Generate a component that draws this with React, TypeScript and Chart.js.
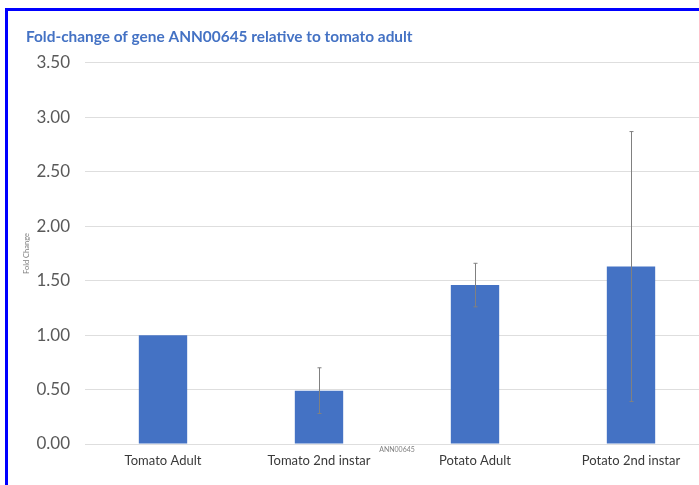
import React, { useEffect, useRef } from "react";
import { Chart, registerables } from "chart.js";

Chart.register(...registerables);

const chartTitle = "Fold-change of gene ANN00645 relative to tomato adult";
const yAxisTitle = "Fold Change";
const xAxisTitle = "ANN00645";
const categories = ["Tomato Adult", "Tomato 2nd instar", "Potato Adult", "Potato 2nd instar"];
const foldChange = [1.0, 0.49, 1.46, 1.63];
const errorPlusMinus = [0, 0.21, 0.2, 1.24];
const yTicks = [0, 0.5, 1, 1.5, 2, 2.5, 3, 3.5];

const errorBarPlugin = {
  id: "errorBars",
  afterDatasetsDraw(chart: any) {
    const meta = chart.getDatasetMeta(0);
    const y = chart.scales.y;
    const ctx = chart.ctx;
    ctx.save();
    ctx.strokeStyle = "#808080";
    ctx.lineWidth = 1;
    meta.data.forEach((bar: any, i: number) => {
      const e = errorPlusMinus[i];
      if (!e) return;
      const v = foldChange[i];
      const x = Math.round(bar.x) + 0.5;
      const yHi = y.getPixelForValue(v + e);
      const yLo = y.getPixelForValue(v - e);
      ctx.beginPath();
      ctx.moveTo(x, yHi);
      ctx.lineTo(x, yLo);
      ctx.moveTo(x - 2, yHi);
      ctx.lineTo(x + 2, yHi);
      ctx.moveTo(x - 2, yLo);
      ctx.lineTo(x + 2, yLo);
      ctx.stroke();
    });
    ctx.restore();
  },
};

const xTitlePlugin = {
  id: "xTitleInside",
  afterDraw(chart: any) {
    const { left, right, bottom } = chart.chartArea;
    const ctx = chart.ctx;
    ctx.save();
    ctx.font = "7px Lato";
    ctx.fillStyle = "#808080";
    ctx.textAlign = "center";
    ctx.textBaseline = "middle";
    ctx.fillText(xAxisTitle, (left + right) / 2, bottom + 6);
    ctx.restore();
  },
};

export default function App() {
  const ref = useRef<HTMLCanvasElement | null>(null);

  useEffect(() => {
    if (!ref.current) return;
    const chart = new Chart(ref.current, {
      type: "bar",
      data: {
        labels: categories,
        datasets: [
          {
            data: foldChange,
            backgroundColor: "#4472C4",
            borderWidth: 0,
            categoryPercentage: 1,
            barPercentage: 0.31,
          },
        ],
      },
      plugins: [errorBarPlugin, xTitlePlugin],
      options: {
        animation: false,
        responsive: false,
        maintainAspectRatio: false,
        layout: { padding: { left: 26, top: 20, right: 21, bottom: 0 } },
        plugins: {
          legend: { display: false },
          tooltip: { enabled: false },
          title: {
            display: true,
            text: chartTitle,
            align: "start",
            color: "#4472C4",
            font: { family: "Lato", size: 15.4, weight: "bold" },
            padding: { top: 8, bottom: 16.5 },
          },
        },
        scales: {
          x: {
            grid: { display: false, drawTicks: false },
            border: { display: false },
            ticks: {
              color: "#3a3a3a",
              font: { family: "Lato", size: 13 },
              padding: 9,
              maxRotation: 0,
              autoSkip: false,
            },
            afterFit(scale: any) {
              scale.height = 41;
            },
          },
          y: {
            min: 0,
            max: 3.5,
            afterBuildTicks(scale: any) {
              scale.ticks = yTicks.map((v) => ({ value: v }));
            },
            grid: { color: "#dedede", drawTicks: false },
            border: { display: false },
            ticks: {
              color: "#595959",
              font: { family: "Lato", size: 17 },
              padding: 15,
              callback: (v: any) => Number(v).toFixed(2),
            },
            title: {
              display: true,
              text: yAxisTitle,
              color: "#808080",
              font: { family: "Lato", size: 7.5 },
              padding: { top: -4, bottom: 0 },
            },
            afterFit(scale: any) {
              scale.width = 59;
            },
          },
        },
      },
    });
    return () => chart.destroy();
  }, []);

  return (
    <div
      style={{
        position: "fixed",
        left: 0,
        top: 0,
        width: 699,
        height: 485,
        overflow: "hidden",
        background: "#ffffff",
      }}
    >
      <div
        style={{
          position: "absolute",
          left: 5,
          top: 8,
          width: 1000,
          height: 1000,
          border: "3px solid #0000ff",
          boxSizing: "border-box",
        }}
      />
      <canvas
        ref={ref}
        width={730}
        height={485}
        style={{ position: "absolute", left: 0, top: 0, width: 730, height: 485 }}
      />
    </div>
  );
}
